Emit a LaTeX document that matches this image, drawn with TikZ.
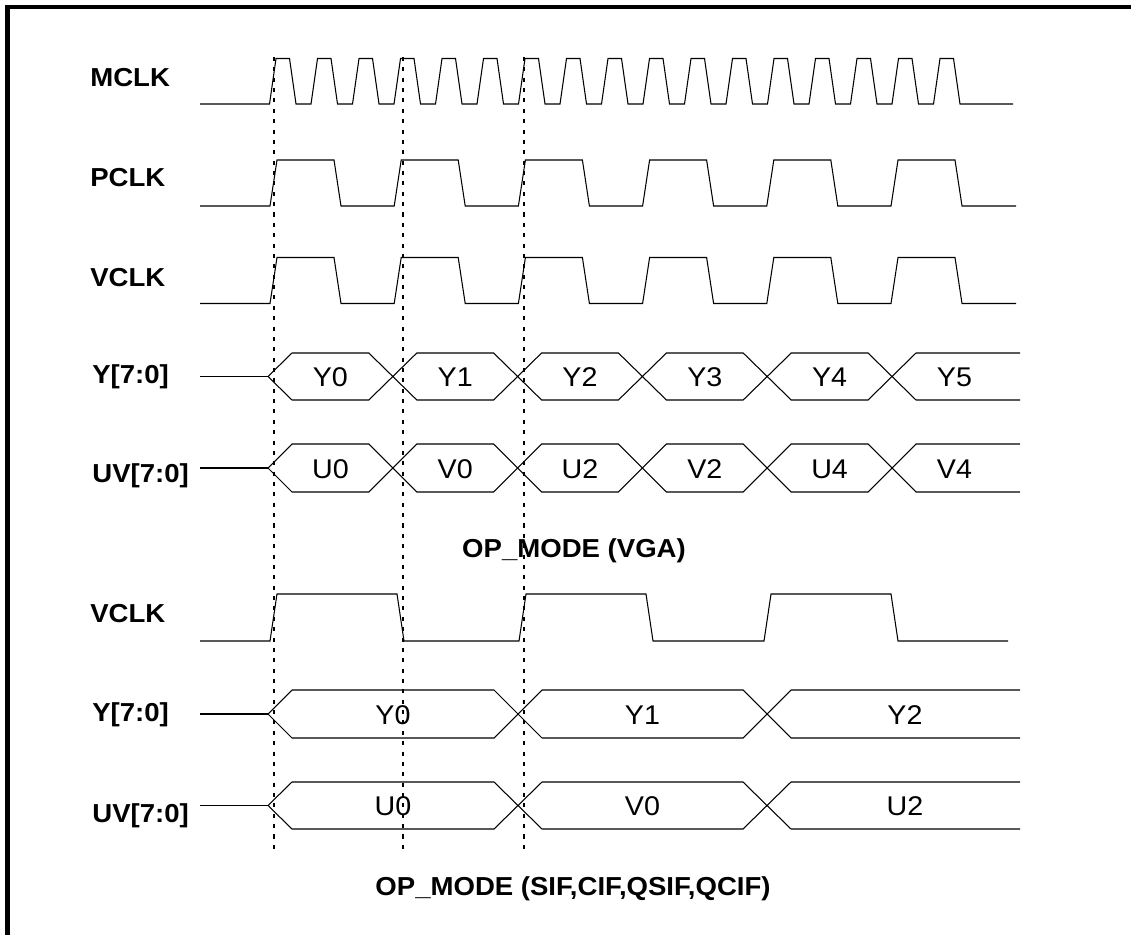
\documentclass[tikz,border=0pt]{standalone}
\usepackage{fontspec}
\setmainfont{Liberation Sans}[FakeStretch=1.06]

\begin{document}
\begin{tikzpicture}[x=0.02cm,y=-0.02cm,
  sig/.style={line width=0.6pt},
  guide/.style={line width=1.3pt, dash pattern=on 2.3pt off 3.6pt},
  signame/.style={font=\fontsize{14.8}{16}\selectfont\bfseries, anchor=base west, inner sep=0pt},
  val/.style={font=\fontsize{15.4}{17}\selectfont, inner sep=0pt}]
\useasboundingbox (0,0) rectangle (1131,935);
\draw[line width=2.5pt] (7.5,935) -- (7.5,7) -- (1131,7);

% signal names
\node[signame] (mclk) at (90,86.5) {MCLK};
\node[signame] (pclk) at (90,186.5) {PCLK};
\node[signame] (vclk) at (90,287) {VCLK};
\node[signame] (y) at (92,383) {Y[7:0]};
\node[signame] (uv) at (92,482) {UV[7:0]};
\node[signame,anchor=base] (vga) at (574,557) {OP\_MODE (VGA)};
\node[signame] (vclkb) at (90,622) {VCLK};
\node[signame] (yb) at (92,721.5) {Y[7:0]};
\node[signame] (uvb) at (92,822) {UV[7:0]};
\node[signame,anchor=base] (cif) at (573,895) {OP\_MODE (SIF,CIF,QSIF,QCIF)};

% VGA clocks
\draw[sig] (200,104) \foreach \i in {0,...,16} { -- ({269.5+41.5*\i},104) -- ({276+41.5*\i},58.5) -- ({289.5+41.5*\i},58.5) -- ({296+41.5*\i},104) } -- (1013,104);
\draw[sig] (200,206) \foreach \i in {0,...,5} { -- ({270+124.2*\i},206) -- ({277+124.2*\i},160) -- ({334+124.2*\i},160) -- ({341+124.2*\i},206) } -- (1016,206);
\draw[sig] (200,303.5) \foreach \i in {0,...,5} { -- ({270+124.2*\i},303.5) -- ({277+124.2*\i},257.5) -- ({334+124.2*\i},257.5) -- ({341+124.2*\i},303.5) } -- (1016,303.5);

% VGA data
\draw[sig] (200,376.5) -- (268,376.5);
\foreach \a in {268,392.8,517.6,642.4,767.2}
  \draw[sig] (\a,376.5) -- ({\a+24},353) -- ({\a+100.8},353) -- ({\a+124.8},376.5) -- ({\a+100.8},400) -- ({\a+24},400) -- cycle;
\draw[sig] (1020,353) -- (916,353) -- (892,376.5) -- (916,400) -- (1020,400);
\foreach \t [count=\i from 0] in {Y0,Y1,Y2,Y3,Y4,Y5}
  \node[val] (y\i) at ({330.4+124.8*\i},377.5) {\t};

\draw[sig] (200,468) -- (268,468);
\foreach \a in {268,392.8,517.6,642.4,767.2}
  \draw[sig] (\a,468) -- ({\a+24},444) -- ({\a+100.8},444) -- ({\a+124.8},468) -- ({\a+100.8},492) -- ({\a+24},492) -- cycle;
\draw[sig] (1020,444) -- (916,444) -- (892,468) -- (916,492) -- (1020,492);
\foreach \t [count=\i from 0] in {U0,V0,U2,V2,U4,V4}
  \node[val] (uv\i) at ({330.4+124.8*\i},469) {\t};

% SIF/CIF clock
\draw[sig] (200,641) \foreach \t in {270,519,764} { -- (\t,641) -- ({\t+7},594) -- ({\t+127},594) -- ({\t+134},641) } -- (1008,641);

% SIF/CIF data
\draw[sig] (200,714) -- (268,714);
\foreach \a/\b in {268/518,518/767}
  \draw[sig] (\a,714) -- ({\a+24},690) -- ({\b-24},690) -- (\b,714) -- ({\b-24},738) -- ({\a+24},738) -- cycle;
\draw[sig] (1020,690) -- (791,690) -- (767,714) -- (791,738) -- (1020,738);
\node[val] (yb0) at (393,715) {Y0};
\node[val] (yb1) at (642.5,715) {Y1};
\node[val] (yb2) at (905,715) {Y2};

\draw[sig] (200,805.5) -- (268,805.5);
\foreach \a/\b in {268/518,518/767}
  \draw[sig] (\a,805.5) -- ({\a+24},782) -- ({\b-24},782) -- (\b,805.5) -- ({\b-24},829) -- ({\a+24},829) -- cycle;
\draw[sig] (1020,782) -- (791,782) -- (767,805.5) -- (791,829) -- (1020,829);
\node[val] (uvb0) at (393,806.5) {U0};
\node[val] (uvb1) at (642.5,806.5) {V0};
\node[val] (uvb2) at (905,806.5) {U2};

% timing guides
\foreach \x in {274,403,524}
  \draw[guide] (\x,57) -- (\x,850);
\end{tikzpicture}
\end{document}
